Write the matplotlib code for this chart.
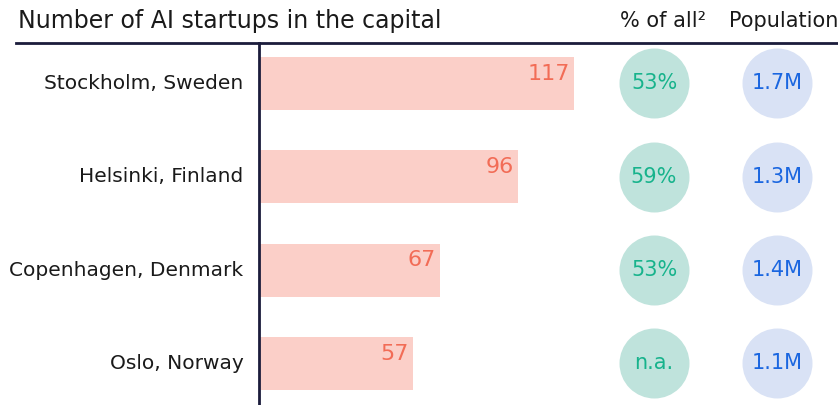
import matplotlib
matplotlib.use("Agg")
import matplotlib.pyplot as plt

cities = ["Stockholm, Sweden", "Helsinki, Finland", "Copenhagen, Denmark", "Oslo, Norway"]
startups = [117, 96, 67, 57]
share_labels = ["53%", "59%", "53%", "n.a."]
population_labels = ["1.7M", "1.3M", "1.4M", "1.1M"]

title = "Number of AI startups in the capital"
share_header = "% of all²"
pop_header = "Population"

W, H = 838, 405
plt.rcParams['font.family'] = ['DejaVu Sans']
fig = plt.figure(figsize=(W / 100, H / 100), dpi=100)

navy = "#1b1c3b"
bar_color = "#fbcfc8"
val_color = "#f26c56"
green_bg = "#bfe3dc"
green_txt = "#17b38c"
blue_bg = "#d9e2f5"
blue_txt = "#1a66e0"

def fx(px):
    return px / W

def fy(py):
    return 1 - py / H

# Bar axes
y0, y1 = 43, 405
x0, x1 = 260, 580
ax = fig.add_axes([fx(x0), fy(y1), fx(x1) - fx(x0), (y1 - y0) / H])
step = 93.3
top_idx = (y0 - 83.5) / step
bot_idx = (y1 - 83.5) / step
ypos = list(range(len(cities)))
ax.barh(ypos, startups, height=0.57, color=bar_color, left=0)
ax.set_xlim(0, (x1 - x0) / 2.684)
ax.set_ylim(bot_idx, top_idx)
ax.axis("off")
for i, v in enumerate(startups):
    ax.annotate(str(v), (v, i), xytext=(-3, 7), textcoords="offset points",
                ha="right", va="center", fontsize=16, color=val_color)
    ax.annotate(cities[i], (0, i), xytext=(-12, 0), textcoords="offset points",
                ha="right", va="center", fontsize=14.5, color="#1a1a1a", annotation_clip=False)

# Circle axes
cx0, cx1 = 580, 838
cax = fig.add_axes([fx(cx0), fy(y1), fx(cx1) - fx(cx0), (y1 - y0) / H])
cax.set_xlim(-74 / 123, 1 + 61 / 123)
cax.set_ylim(bot_idx, top_idx)
cax.axis("off")
s = (35 * 0.72 * 2) ** 2
cax.scatter([0] * len(cities), ypos, s=s, color=green_bg, linewidths=0)
cax.scatter([1] * len(cities), ypos, s=s, color=blue_bg, linewidths=0)
for i in ypos:
    cax.text(0, i, share_labels[i], ha="center", va="center", fontsize=15,
             color=green_txt, fontweight="medium")
    cax.text(1, i, population_labels[i], ha="center", va="center", fontsize=15,
             color=blue_txt, fontweight="medium")

# Header
fig.text(fx(18), fy(21), title, ha="left", va="center", fontsize=17, color="#1a1a1a")
fig.text(fx(663), fy(21), share_header, ha="center", va="center", fontsize=15, color="#1a1a1a")
fig.text(fx(838), fy(21), pop_header, ha="right", va="center", fontsize=15, color="#1a1a1a")
fig.add_artist(plt.Line2D([fx(16), 1], [fy(43), fy(43)], color=navy, lw=2))
fig.add_artist(plt.Line2D([fx(259), fx(259)], [fy(43), 0], color=navy, lw=2))

fig.savefig("out.png", dpi=100)
